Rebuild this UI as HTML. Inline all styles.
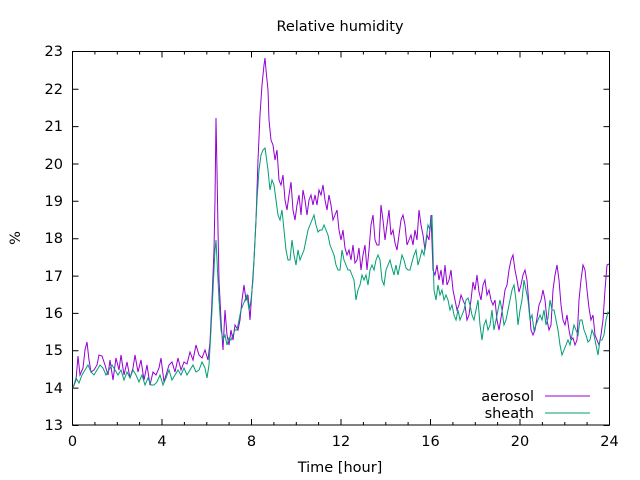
<!DOCTYPE html>
<html><head><meta charset="utf-8"><style>body{margin:0;background:#fff}svg{display:block}text{font-family:"DejaVu Sans","Liberation Sans",sans-serif;font-size:14.5px;fill:#000}</style></head>
<body>
<svg width="640" height="480" viewBox="0 0 640 480" xmlns="http://www.w3.org/2000/svg">
<rect width="640" height="480" fill="#fff"/>
<g stroke="#000" stroke-width="1" fill="none">
<rect x="72.5" y="51.5" width="537" height="373.5"/>
<path d="M72.5 425.5h6M609.5 425.5h-6M72.5 388.1h6M609.5 388.1h-6M72.5 350.8h6M609.5 350.8h-6M72.5 313.4h6M609.5 313.4h-6M72.5 276.1h6M609.5 276.1h-6M72.5 238.7h6M609.5 238.7h-6M72.5 201.3h6M609.5 201.3h-6M72.5 164h6M609.5 164h-6M72.5 126.6h6M609.5 126.6h-6M72.5 89.3h6M609.5 89.3h-6"/>
<path d="M72.5 425v-6M72.5 51.5v6M162 425v-6M162 51.5v6M251.5 425v-6M251.5 51.5v6M341 425v-6M341 51.5v6M430.5 425v-6M430.5 51.5v6M520 425v-6M520 51.5v6M609.5 425v-6M609.5 51.5v6"/>
<path d="M94.9 425v-3M94.9 51.5v3M117.3 425v-3M117.3 51.5v3M139.6 425v-3M139.6 51.5v3M184.4 425v-3M184.4 51.5v3M206.8 425v-3M206.8 51.5v3M229.1 425v-3M229.1 51.5v3M273.9 425v-3M273.9 51.5v3M296.3 425v-3M296.3 51.5v3M318.6 425v-3M318.6 51.5v3M363.4 425v-3M363.4 51.5v3M385.8 425v-3M385.8 51.5v3M408.1 425v-3M408.1 51.5v3M452.9 425v-3M452.9 51.5v3M475.3 425v-3M475.3 51.5v3M497.6 425v-3M497.6 51.5v3M542.4 425v-3M542.4 51.5v3M564.8 425v-3M564.8 51.5v3M587.1 425v-3M587.1 51.5v3"/>
</g>
<g text-anchor="end">
<text x="63" y="430">13</text><text x="63" y="393">14</text><text x="63" y="355">15</text><text x="63" y="318">16</text><text x="63" y="281">17</text><text x="63" y="243">18</text><text x="63" y="206">19</text><text x="63" y="169">20</text><text x="63" y="131">21</text><text x="63" y="94">22</text><text x="63" y="56">23</text>
</g>
<g text-anchor="middle">
<text x="72.5" y="446">0</text><text x="162" y="446">4</text><text x="251.5" y="446">8</text><text x="341" y="446">12</text><text x="430.5" y="446">16</text><text x="520" y="446">20</text><text x="609.5" y="446">24</text>
<text x="340" y="31">Relative humidity</text>
<text x="340" y="472">Time [hour]</text>
<text transform="translate(20,238) rotate(-90)">%</text>
</g>
<text x="534" y="401" text-anchor="end">aerosol</text>
<text x="534" y="418" text-anchor="end">sheath</text>
<path d="M545 396h45" stroke="#9400d3"/>
<path d="M545 413h45" stroke="#009e73"/>
<polyline fill="none" stroke="#9400d3" stroke-width="1" points="73,388 76,380 78,356 80,375 83,368 85,350 87,342 89,360 91,372 94,370 97,365 99,355 102,356 105,365 108,375 110,360 113,380 116,358 119,370 121,355 124,375 127,362 130,378 133,368 135,355 138,372 141,360 144,380 147,365 150,385 153,372 156,375 159,368 161,358 164,382 166,375 169,365 172,362 175,372 178,358 181,370 184,362 187,364 190,352 193,360 196,345 199,355 202,358 205,350 208,360 210,342 212,300 214,250 215,200 216,118 217,170 218,230 219,280 221,320 223,350 225,310 227,335 229,345 231,330 233,340 235,325 238,330 240,320 242,300 244,285 246,300 248,295 250,320 252,290 254,260 256,220 258,160 260,115 262,85 264,65 265,58 266,70 268,90 269,120 271,140 273,145 275,160 277,150 279,180 281,185 283,175 285,200 287,210 289,195 291,182 293,210 295,220 297,205 299,195 301,215 303,190 305,200 307,215 309,200 311,195 313,205 315,195 317,205 319,190 321,195 323,185 325,200 327,210 329,195 331,205 333,220 335,215 337,210 339,230 341,240 343,230 345,248 347,255 349,250 351,260 353,245 355,263 357,260 359,248 361,270 363,255 365,245 367,270 369,250 371,225 373,215 375,240 377,245 379,245 381,205 383,220 385,240 387,225 389,210 391,235 393,230 395,243 397,250 399,235 401,220 403,215 405,225 407,245 409,240 411,235 413,245 415,230 417,240 419,210 421,225 423,235 425,250 427,235 429,240 431,215 433,270 435,275 437,265 439,280 441,270 443,285 445,265 447,285 449,280 451,270 453,290 455,300 457,310 459,305 461,295 463,300 465,305 467,320 469,315 471,300 473,282 475,290 477,275 479,292 481,300 483,285 485,280 487,295 489,290 491,300 493,305 495,300 497,320 499,330 501,318 503,305 505,290 507,285 509,270 511,260 513,255 515,270 517,280 519,292 521,285 523,275 525,270 527,280 529,305 531,330 533,335 535,330 537,318 539,305 541,300 543,290 545,300 547,320 549,330 551,325 553,290 555,275 557,265 559,280 561,305 563,320 565,325 567,315 569,330 571,340 573,338 575,345 577,340 579,300 581,280 583,265 585,270 587,290 589,308 591,320 593,315 595,335 597,340 599,345 601,335 603,320 605,290 607,265 609,264"/>
<polyline fill="none" stroke="#009e73" stroke-width="1" points="73,388 76,378 79,383 82,375 85,370 88,365 91,372 94,375 97,370 100,365 103,368 106,375 109,370 112,365 115,370 118,375 121,370 124,380 127,372 130,378 133,370 136,375 139,382 142,375 145,385 148,378 151,385 154,385 157,382 160,375 163,385 166,378 169,370 172,380 175,375 178,370 181,375 184,368 187,375 190,370 193,365 196,372 199,370 202,362 205,368 207,378 209,365 211,330 213,290 215,250 216,240 217,260 219,300 221,330 223,340 225,335 227,345 229,338 231,340 233,335 235,330 237,330 239,320 241,310 243,305 245,300 247,295 249,310 251,300 253,280 255,240 257,200 259,170 261,155 263,150 265,148 266,155 268,170 270,190 272,180 274,185 276,200 278,215 280,220 282,210 284,230 286,250 288,260 290,260 292,240 294,255 296,265 298,250 300,260 302,255 304,250 306,240 308,230 310,225 312,220 314,215 316,225 318,232 320,230 322,230 324,225 326,230 328,235 330,245 332,250 334,255 336,265 338,270 340,270 342,250 344,260 346,265 348,270 350,270 352,275 354,280 356,300 358,290 360,285 362,275 364,280 366,275 368,285 370,270 372,265 374,270 376,260 378,255 380,260 382,280 384,285 386,270 388,265 390,260 392,268 394,275 396,265 398,275 400,265 402,255 404,260 406,268 408,270 410,270 412,262 414,255 416,250 418,265 420,258 422,250 424,255 426,240 428,225 430,230 432,215 434,290 436,300 438,285 440,295 442,290 444,300 446,295 448,300 450,310 452,305 454,315 456,320 458,310 460,320 462,315 464,310 466,300 468,298 470,305 472,315 474,320 476,310 478,300 480,325 482,340 484,325 486,320 488,330 490,325 492,310 494,330 496,320 498,310 500,300 502,310 504,325 506,320 508,310 510,300 512,290 514,285 516,300 518,325 520,310 522,300 524,280 526,290 528,300 530,320 532,315 534,330 536,325 538,320 540,315 542,320 544,310 546,325 548,318 550,300 552,310 554,310 556,320 558,330 560,345 562,355 564,350 566,345 568,340 570,345 572,335 574,325 576,330 578,335 580,320 582,320 584,330 586,335 588,342 590,340 592,330 594,335 596,345 598,355 600,340 602,340 604,335 606,320 608,312 609,313"/>
</svg>
</body></html>
